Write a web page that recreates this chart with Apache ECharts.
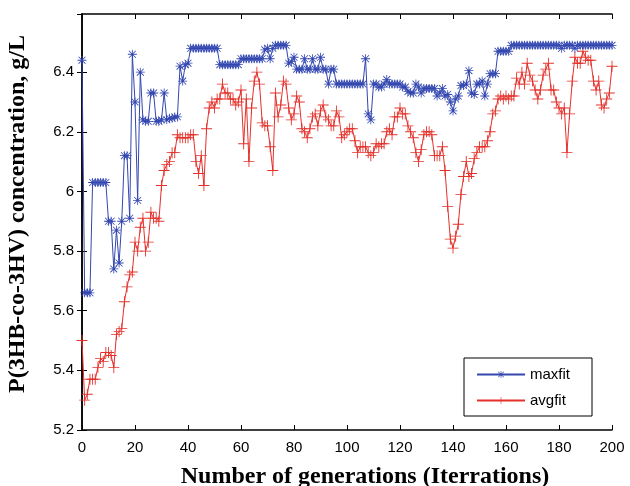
<!DOCTYPE html>
<html>
<head>
<meta charset="UTF-8" />
<title>maxfit / avgfit</title>
<script src="https://cdn.jsdelivr.net/npm/echarts@6/dist/echarts.min.js"></script>
<style>
  html, body { margin: 0; padding: 0; background: #fff; }
  #chart { width: 630px; height: 486px; }
</style>
</head>
<body>
<div id="chart"></div>
<script>
// generations 0..200
var generations = [];
for (var g = 0; g <= 200; g++) generations.push(g);

var maxfit = [
  6.44, 5.66, 5.66, 5.66, 6.03, 6.03, 6.03, 6.03, 6.03, 6.03,
  5.90, 5.90, 5.74, 5.87, 5.76, 5.90, 6.12, 6.12, 5.91, 6.46,
  6.30, 5.97, 6.40, 6.24, 6.235, 6.235, 6.33, 6.33, 6.235, 6.235,
  6.24, 6.33, 6.24, 6.245, 6.245, 6.25, 6.25, 6.42, 6.37, 6.425,
  6.43, 6.48, 6.48, 6.48, 6.48, 6.48, 6.48, 6.48, 6.48, 6.48,
  6.48, 6.48, 6.425, 6.425, 6.425, 6.425, 6.425, 6.425, 6.425, 6.425,
  6.445, 6.445, 6.445, 6.445, 6.445, 6.445, 6.445, 6.445, 6.445, 6.475,
  6.48, 6.445, 6.48, 6.49, 6.49, 6.49, 6.49, 6.49, 6.43, 6.435,
  6.45, 6.41, 6.41, 6.41, 6.445, 6.41, 6.41, 6.445, 6.41, 6.41,
  6.45, 6.41, 6.41, 6.36, 6.41, 6.41, 6.36, 6.36, 6.36, 6.36,
  6.36, 6.36, 6.36, 6.36, 6.36, 6.36, 6.36, 6.445, 6.26, 6.24,
  6.36, 6.36, 6.35, 6.35, 6.36, 6.375, 6.36, 6.36, 6.36, 6.36,
  6.36, 6.35, 6.35, 6.335, 6.33, 6.33, 6.36, 6.35, 6.33, 6.345,
  6.345, 6.345, 6.345, 6.345, 6.32, 6.33, 6.345, 6.32, 6.325, 6.30,
  6.27, 6.31, 6.32, 6.355, 6.355, 6.36, 6.405, 6.33, 6.325, 6.36,
  6.36, 6.37, 6.32, 6.36, 6.395, 6.395, 6.395, 6.47, 6.47, 6.47,
  6.47, 6.47, 6.49, 6.49, 6.49, 6.49, 6.49, 6.49, 6.49, 6.49,
  6.49, 6.49, 6.49, 6.49, 6.49, 6.49, 6.49, 6.49, 6.49, 6.49,
  6.49, 6.48, 6.49, 6.49, 6.49, 6.49, 6.48, 6.49, 6.49, 6.49,
  6.49, 6.49, 6.49, 6.49, 6.49, 6.49, 6.49, 6.49, 6.49, 6.49,
  6.49
];

var avgfit = [
  5.50, 5.30, 5.32, 5.37, 5.37, 5.37, 5.41, 5.44, 5.43, 5.46,
  5.46, 5.45, 5.41, 5.52, 5.53, 5.54, 5.63, 5.68, 5.72, 5.73,
  5.83, 5.80, 5.88, 5.91, 5.80, 5.83, 5.93, 5.91, 5.91, 5.90,
  6.02, 6.07, 6.09, 6.10, 6.13, 6.13, 6.19, 6.18, 6.18, 6.18,
  6.18, 6.19, 6.19, 6.10, 6.06, 6.12, 6.02, 6.21, 6.28, 6.30,
  6.28, 6.31, 6.31, 6.36, 6.33, 6.33, 6.31, 6.31, 6.29, 6.30,
  6.34, 6.16, 6.31, 6.10, 6.28, 6.37, 6.40, 6.36, 6.23, 6.22,
  6.22, 6.15, 6.07, 6.33, 6.25, 6.29, 6.37, 6.36, 6.28, 6.24,
  6.26, 6.32, 6.30, 6.21, 6.20, 6.18, 6.21, 6.25, 6.26, 6.22,
  6.27, 6.29, 6.25, 6.24, 6.22, 6.22, 6.27, 6.25, 6.18, 6.19,
  6.20, 6.21, 6.21, 6.17, 6.13, 6.15, 6.15, 6.15, 6.13, 6.12,
  6.13, 6.16, 6.15, 6.16, 6.16, 6.20, 6.21, 6.19, 6.25, 6.25,
  6.28, 6.26, 6.26, 6.22, 6.20, 6.18, 6.13, 6.10, 6.14, 6.19,
  6.20, 6.20, 6.19, 6.12, 6.12, 6.12, 6.15, 6.07, 5.95, 5.84,
  5.81, 5.85, 5.89, 5.99, 6.05, 6.10, 6.05, 6.06, 6.11, 6.13,
  6.15, 6.15, 6.15, 6.17, 6.20, 6.26, 6.27, 6.31, 6.32, 6.31,
  6.32, 6.31, 6.32, 6.32, 6.38, 6.36, 6.40, 6.36, 6.43, 6.39,
  6.37, 6.34, 6.31, 6.34, 6.39, 6.41, 6.43, 6.34, 6.34, 6.30,
  6.28, 6.26, 6.28, 6.13, 6.26, 6.37, 6.45, 6.43, 6.43, 6.47,
  6.45, 6.44, 6.44, 6.37, 6.34, 6.37, 6.29, 6.28, 6.31, 6.33,
  6.42
];

var seriesNames = ["maxfit", "avgfit"];
var colors = ["#3347b0", "#e5302a"];

// thin plus and asterisk markers as filled outlines
var plusPath = "path://M4.6,0H5.4V4.6H10V5.4H5.4V10H4.6V5.4H0V4.6H4.6Z";
var starPath = "path://M4.55,0H5.45V3.9L8.5,0.85L9.15,1.5L6.1,4.55H10V5.45H6.1L9.15,8.5L8.5,9.15L5.45,6.1V10H4.55V6.1L1.5,9.15L0.85,8.5L3.9,5.45H0V4.55H3.9L0.85,1.5L1.5,0.85L4.55,3.9Z";

var chart = echarts.init(document.getElementById("chart"));

var tickStyle = { inside: true, length: 5, lineStyle: { color: "#000", width: 1 } };
var lineStyleAxis = { color: "#000", width: 1.5 };
var labelFont = { color: "#000", fontSize: 15, fontFamily: "Liberation Sans" };
var nameFont = { color: "#000", fontSize: 24, fontWeight: "bold", fontFamily: "Liberation Serif" };

var option = {
  animation: false,
  backgroundColor: "#fff",
  grid: { left: 82, right: 18, top: 14, bottom: 56, outerBoundsMode: "none", containLabel: false },
  legend: {
    left: 464,
    top: 358,
    orient: "vertical",
    backgroundColor: "#fff",
    borderColor: "#000",
    borderWidth: 1,
    borderRadius: 0,
    padding: [9, 22, 8, 12],
    itemGap: 11,
    itemWidth: 48,
    itemHeight: 9,
    textStyle: { color: "#000", fontSize: 15, fontFamily: "Liberation Sans" },
    data: seriesNames
  },
  xAxis: [
    {
      type: "value",
      min: 0, max: 200, interval: 20,
      position: "bottom",
      axisLine: { lineStyle: lineStyleAxis },
      axisTick: tickStyle,
      axisLabel: Object.assign({ margin: 10 }, labelFont),
      splitLine: { show: false },
      name: "Number of generations (Iterrations)",
      nameLocation: "middle",
      nameGap: 35,
      nameTextStyle: Object.assign({ padding: [0, 0, 0, 36] }, nameFont)
    },
    {
      type: "value",
      min: 0, max: 200, interval: 20,
      position: "top",
      axisLine: { lineStyle: lineStyleAxis },
      axisTick: tickStyle,
      axisLabel: { show: false },
      splitLine: { show: false }
    }
  ],
  yAxis: [
    {
      type: "value",
      min: 5.2, max: 6.595, interval: 0.2,
      position: "left",
      axisLine: { lineStyle: lineStyleAxis },
      axisTick: tickStyle,
      axisLabel: Object.assign({ margin: 8, showMaxLabel: false, formatter: function (v) {
        return String(Math.round(v * 10) / 10);
      } }, labelFont),
      splitLine: { show: false },
      name: "P(3HB-co-3HV) concentration, g/L",
      nameLocation: "middle",
      nameGap: 52,
      nameTextStyle: Object.assign({ padding: [0, 0, 0, 16] }, nameFont)
    },
    {
      type: "value",
      min: 5.2, max: 6.595, interval: 0.2,
      position: "right",
      axisLine: { lineStyle: lineStyleAxis },
      axisTick: tickStyle,
      axisLabel: { show: false },
      splitLine: { show: false }
    }
  ],
  series: [
    {
      name: seriesNames[0],
      type: "line",
      data: generations.map(function (x, i) { return [x, maxfit[i]]; }),
      symbol: starPath,
      symbolSize: 9,
      showAllSymbol: true,
      lineStyle: { color: colors[0], width: 1 },
      itemStyle: { color: colors[0] },
      z: 3
    },
    {
      name: seriesNames[1],
      type: "line",
      data: generations.map(function (x, i) { return [x, avgfit[i]]; }),
      symbol: plusPath,
      symbolSize: 11,
      showAllSymbol: true,
      lineStyle: { color: colors[1], width: 1 },
      itemStyle: { color: colors[1] },
      z: 2
    }
  ]
};

chart.setOption(option);
</script>
</body>
</html>
